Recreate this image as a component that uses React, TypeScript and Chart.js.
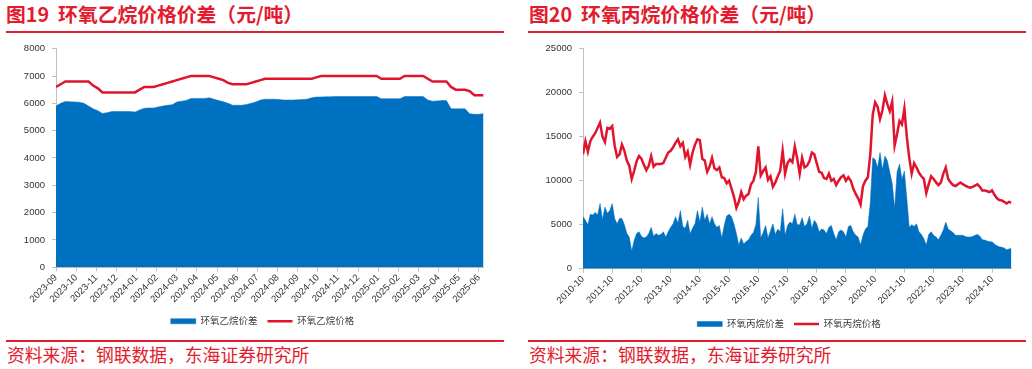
import React, { useEffect, useRef } from 'react';
import { Chart, registerables } from 'chart.js';

Chart.register(...registerables);

// ---------- 图19 环氧乙烷 (weekly, 2023-09 .. 2025-06) ----------
const eoMonthLabels = [
  '2023-09', '2023-10', '2023-11', '2023-12', '2024-01', '2024-02', '2024-03', '2024-04',
  '2024-05', '2024-06', '2024-07', '2024-08', '2024-09', '2024-10', '2024-11', '2024-12',
  '2025-01', '2025-02', '2025-03', '2025-04', '2025-05', '2025-06',
];
const eoSpread = [
  5900, 6000, 6070, 6060, 6050, 6040, 6000, 5900, 5800, 5730,
  5630, 5660, 5700, 5700, 5700, 5700, 5700, 5680, 5760, 5820,
  5830, 5830, 5870, 5900, 5930, 5950, 6050, 6080, 6100, 6180,
  6180, 6180, 6180, 6200, 6150, 6100, 6060, 6000, 5930, 5930,
  5930, 5960, 6000, 6050, 6120, 6150, 6150, 6150, 6140, 6120,
  6120, 6120, 6130, 6140, 6150, 6200, 6230, 6230, 6240, 6240,
  6250, 6250, 6250, 6250, 6250, 6250, 6250, 6250, 6250, 6250,
  6170, 6170, 6170, 6170, 6170, 6250, 6250, 6250, 6250, 6250,
  6120, 6080, 6090, 6100, 6100, 5800, 5800, 5800, 5800, 5620,
  5600, 5600, 5620,
];
const eoPrice = [
  6600, 6700, 6800, 6800, 6800, 6800, 6800, 6800, 6650, 6550,
  6400, 6400, 6400, 6400, 6400, 6400, 6400, 6400, 6500, 6600,
  6600, 6600, 6650, 6700, 6750, 6800, 6850, 6900, 6950, 7000,
  7000, 7000, 7000, 7000, 6950, 6900, 6850, 6750, 6700, 6700,
  6700, 6700, 6750, 6800, 6850, 6900, 6900, 6900, 6900, 6900,
  6900, 6900, 6900, 6900, 6900, 6900, 6950, 7000, 7000, 7000,
  7000, 7000, 7000, 7000, 7000, 7000, 7000, 7000, 7000, 7000,
  6900, 6900, 6900, 6900, 6900, 7000, 7000, 7000, 7000, 7000,
  6900, 6800, 6800, 6800, 6800, 6600, 6500, 6500, 6500, 6450,
  6300, 6300, 6300,
];

// ---------- 图20 环氧丙烷 (monthly, 2010-10 .. 2025-06) ----------
const poYearLabels = [
  '2010-10', '2011-10', '2012-10', '2013-10', '2014-10', '2015-10', '2016-10', '2017-10',
  '2018-10', '2019-10', '2020-10', '2021-10', '2022-10', '2023-10', '2024-10',
];
const poSpread = [
  5900, 5500, 5000, 6200, 6100, 6400, 6100, 7400, 5600, 7000, 6300, 6600,
  7400, 5700, 5100, 5700, 5700, 5000, 4000, 3600, 2000, 3200, 4000, 4200,
  3700, 3500, 3600, 4000, 4700, 3700, 4000, 3800, 3900, 4200, 3600, 4200,
  4700, 5100, 5900, 5200, 6600, 4800, 4600, 5500, 4000, 4600, 5100, 6600,
  5300, 7000, 5500, 6200, 5100, 5900, 5100, 4700, 4900, 3500, 4900, 6000,
  6200, 5900, 5100, 4000, 2700, 3500, 2800, 3100, 3300, 3800, 4100, 5000,
  8100, 3500, 4100, 4900, 3500, 4300, 5100, 3900, 4500, 4200, 6800, 3800,
  4900, 5300, 5100, 6200, 5000, 5000, 5800, 4800, 5100, 6000, 4600, 5500,
  5100, 4200, 4500, 4400, 4000, 4700, 4900, 4000, 3300, 4200, 4400, 4200,
  3600, 4800, 4900, 4200, 3800, 3600, 2700, 3800, 4500, 4800, 7500, 12600,
  12400, 11500, 13200, 11300, 12800, 12300, 11000, 9700, 6900, 11000, 11900, 10200,
  11100, 8000, 4700, 5000, 4800, 5100, 4200, 3900, 3400, 2700, 3900, 4200,
  3800, 3600, 3300, 3800, 4400, 5300, 4500, 4300, 4100, 3800, 3800, 3800,
  3800, 3650, 3600, 3600, 3650, 3800, 3900, 3700, 3300, 3250, 3150, 3050,
  3050, 2800, 2600, 2500, 2450, 2350, 2150, 2250, 2300,
];
const poPrice = [
  13000, 14500, 13300, 14500, 15000, 15400, 16000, 16600, 15000, 14400, 16000, 15900,
  16200, 14000, 12700, 13000, 14100, 13400, 12300, 11700, 10200, 11100, 12200, 12800,
  12500, 11800, 11200, 11700, 12800, 11600, 11900, 11900, 11900, 12000, 12600, 13200,
  13400, 13800, 14300, 14700, 13900, 14300, 12700, 13300, 11800, 13200, 14100, 14700,
  14600, 12500, 12300, 11000, 11600, 12600, 11400, 11200, 11500, 10400, 10300, 9700,
  10000, 9100, 8200, 6900, 7600, 8700, 7900, 8300, 8500, 9600, 10000, 11000,
  13900, 10600, 11100, 11500, 10100, 10500, 9300, 9800, 10500, 11100, 13400, 10800,
  12000, 12400, 12100, 13900, 12500, 10800, 12600, 11500, 11700, 12200, 13200, 13000,
  12000, 11000, 10900, 10300, 10200, 10800, 10000, 10200, 9500, 10000, 10400, 10600,
  10000, 10400, 10000, 9100, 8500, 8000, 7300, 9400, 10000, 10400, 13000, 17500,
  18900, 18400, 17000, 18000, 19700, 18700, 17900, 19000, 14000, 15300, 16800, 16400,
  18200, 15000, 12600, 10800, 12000, 11500, 10900, 10500, 10200, 8600, 9600, 10500,
  10200, 9800, 9500, 9800, 10800, 11500, 10200, 9800, 9500, 9400, 9600, 9800,
  9600, 9450, 9300, 9200, 9300, 9450, 9600, 9300, 8900, 8900, 8800, 8700,
  8900, 8400, 8000, 7800, 7750, 7600, 7400, 7600, 7500,
];

const BLUE = '#0070C0';
const RED = '#E0142D';
const AXIS_GRAY = '#BFBFBF';
const TEXT_FONT = '"Liberation Sans", "Noto Sans CJK SC", sans-serif';

type Params = {
  spread: number[];
  price: number[];
  spreadName: string;
  priceName: string;
  xStep: number; // axis units per data point
  tickLabels: string[];
  yMax: number;
  yStep: number;
  padding: { left: number; right: number; top: number; bottom: number };
  yAxisWidth: number;
  xAxisHeight: number;
  legendCenter: number; // canvas-relative x of legend centre
};

function buildConfig(p: Params): any {
  const spreadPts = p.spread.map((v, i) => ({ x: i * p.xStep, y: v }));
  const pricePts = p.price.map((v, i) => ({ x: i * p.xStep, y: v }));
  const xMax = (p.spread.length - 1) * p.xStep;
  const legendShift = {
    id: 'legendShift',
    afterLayout(chart: any) {
      const lg = chart.legend;
      if (!lg) return;
      const w = lg.right - lg.left;
      lg.left = p.legendCenter - w / 2;
      lg.right = p.legendCenter + w / 2;
    },
  };
  return {
    type: 'line',
    data: {
      datasets: [
        {
          label: p.spreadName,
          data: spreadPts,
          fill: 'origin',
          backgroundColor: BLUE,
          borderColor: BLUE,
          borderWidth: 0.5,
          pointRadius: 0,
          pointStyle: 'rect',
          tension: 0,
        },
        {
          label: p.priceName,
          data: pricePts,
          fill: false,
          borderColor: RED,
          backgroundColor: RED,
          borderWidth: 2.5,
          pointRadius: 0,
          pointStyle: 'line',
          tension: 0,
        },
      ],
    },
    plugins: [legendShift],
    options: {
      animation: false,
      responsive: false,
      maintainAspectRatio: false,
      events: [],
      layout: { padding: p.padding },
      plugins: {
        tooltip: { enabled: false },
        title: { display: false },
        legend: {
          display: true,
          position: 'bottom',
          labels: {
            usePointStyle: true,
            pointStyleWidth: 25,
            boxHeight: 5,
            padding: 10,
            color: '#404040',
            font: { size: 9.5, family: TEXT_FONT },
          },
        },
      },
      scales: {
        x: {
          type: 'linear',
          min: 0,
          max: xMax,
          afterFit: (s: any) => { s.height = p.xAxisHeight; },
          grid: { drawOnChartArea: false, drawTicks: true, tickLength: 4, color: AXIS_GRAY },
          border: { display: true, color: AXIS_GRAY, width: 1 },
          ticks: {
            stepSize: 1,
            includeBounds: false,
            autoSkip: false,
            maxRotation: 45,
            minRotation: 45,
            padding: 1,
            color: '#333333',
            font: { size: 9.5, family: TEXT_FONT },
            callback: (value: number) => {
              const i = Math.round(value);
              if (Math.abs(value - i) > 1e-6) return '';
              return p.tickLabels[i] ?? '';
            },
          },
        },
        y: {
          type: 'linear',
          min: 0,
          max: p.yMax,
          afterFit: (s: any) => { s.width = p.yAxisWidth; },
          grid: { drawOnChartArea: false, drawTicks: true, tickLength: 4, color: AXIS_GRAY },
          border: { display: true, color: AXIS_GRAY, width: 1 },
          ticks: {
            stepSize: p.yStep,
            padding: 7,
            color: '#333333',
            font: { size: 9.5, family: TEXT_FONT },
            callback: (value: number) => String(value),
          },
        },
      },
    },
  };
}

const titleStyle: React.CSSProperties = {
  position: 'absolute',
  top: 4,
  fontFamily: '"Noto Sans CJK SC", sans-serif',
  fontWeight: 700,
  fontSize: 19.8,
  lineHeight: '19.8px',
  color: '#E31B2E',
  whiteSpace: 'pre',
  margin: 0,
};
const sourceStyle: React.CSSProperties = {
  position: 'absolute',
  top: 345.8,
  fontFamily: '"Noto Sans CJK SC", sans-serif',
  fontWeight: 400,
  fontSize: 17.8,
  lineHeight: '17.8px',
  color: '#E31B2E',
  whiteSpace: 'pre',
  margin: 0,
};
const ruleStyle = (left: number, width: number, top: number): React.CSSProperties => ({
  position: 'absolute',
  left,
  width,
  top,
  height: 2,
  background: '#E31B2E',
});

export default function App() {
  const leftRef = useRef<HTMLCanvasElement>(null);
  const rightRef = useRef<HTMLCanvasElement>(null);

  useEffect(() => {
    const charts: Chart[] = [];
    if (leftRef.current) {
      charts.push(
        new Chart(
          leftRef.current,
          buildConfig({
            spread: eoSpread,
            price: eoPrice,
            spreadName: '环氧乙烷价差',
            priceName: '环氧乙烷价格',
            xStep: 12 / 52,
            tickLabels: eoMonthLabels,
            yMax: 8000,
            yStep: 1000,
            padding: { left: 0, right: 26.4, top: 12.7, bottom: 0 },
            yAxisWidth: 56,
            xAxisHeight: 39.25,
            legendCenter: 262.5,
          })
        )
      );
    }
    if (rightRef.current) {
      charts.push(
        new Chart(
          rightRef.current,
          buildConfig({
            spread: poSpread,
            price: poPrice,
            spreadName: '环氧丙烷价差',
            priceName: '环氧丙烷价格',
            xStep: 1 / 12,
            tickLabels: poYearLabels,
            yMax: 25000,
            yStep: 5000,
            padding: { left: 0, right: 20.5, top: 11.3, bottom: 0.25 },
            yAxisWidth: 63,
            xAxisHeight: 40.55,
            legendCenter: 269,
          })
        )
      );
    }
    return () => charts.forEach((c) => c.destroy());
  }, []);

  return (
    <div
      style={{
        position: 'fixed',
        left: 0,
        top: 0,
        width: 1032,
        height: 369,
        background: '#ffffff',
        overflow: 'hidden',
      }}
    >
      <div style={{ ...titleStyle, left: 6 }}>图19  环氧乙烷价格价差（元/吨）</div>
      <div style={ruleStyle(5.5, 498.5, 31)} />
      <canvas
        ref={leftRef}
        width={510}
        height={300}
        style={{ position: 'absolute', left: 0, top: 36, width: 510, height: 300 }}
      />
      <div style={ruleStyle(5.5, 498.5, 339.5)} />
      <div style={{ ...sourceStyle, left: 7 }}>资料来源：钢联数据，东海证券研究所</div>

      <div style={{ ...titleStyle, left: 529 }}>图20  环氧丙烷价格价差（元/吨）</div>
      <div style={ruleStyle(527.5, 498.5, 31)} />
      <canvas
        ref={rightRef}
        width={512}
        height={303}
        style={{ position: 'absolute', left: 520, top: 36, width: 512, height: 303 }}
      />
      <div style={ruleStyle(527.5, 498.5, 339.5)} />
      <div style={{ ...sourceStyle, left: 529 }}>资料来源：钢联数据，东海证券研究所</div>
    </div>
  );
}
